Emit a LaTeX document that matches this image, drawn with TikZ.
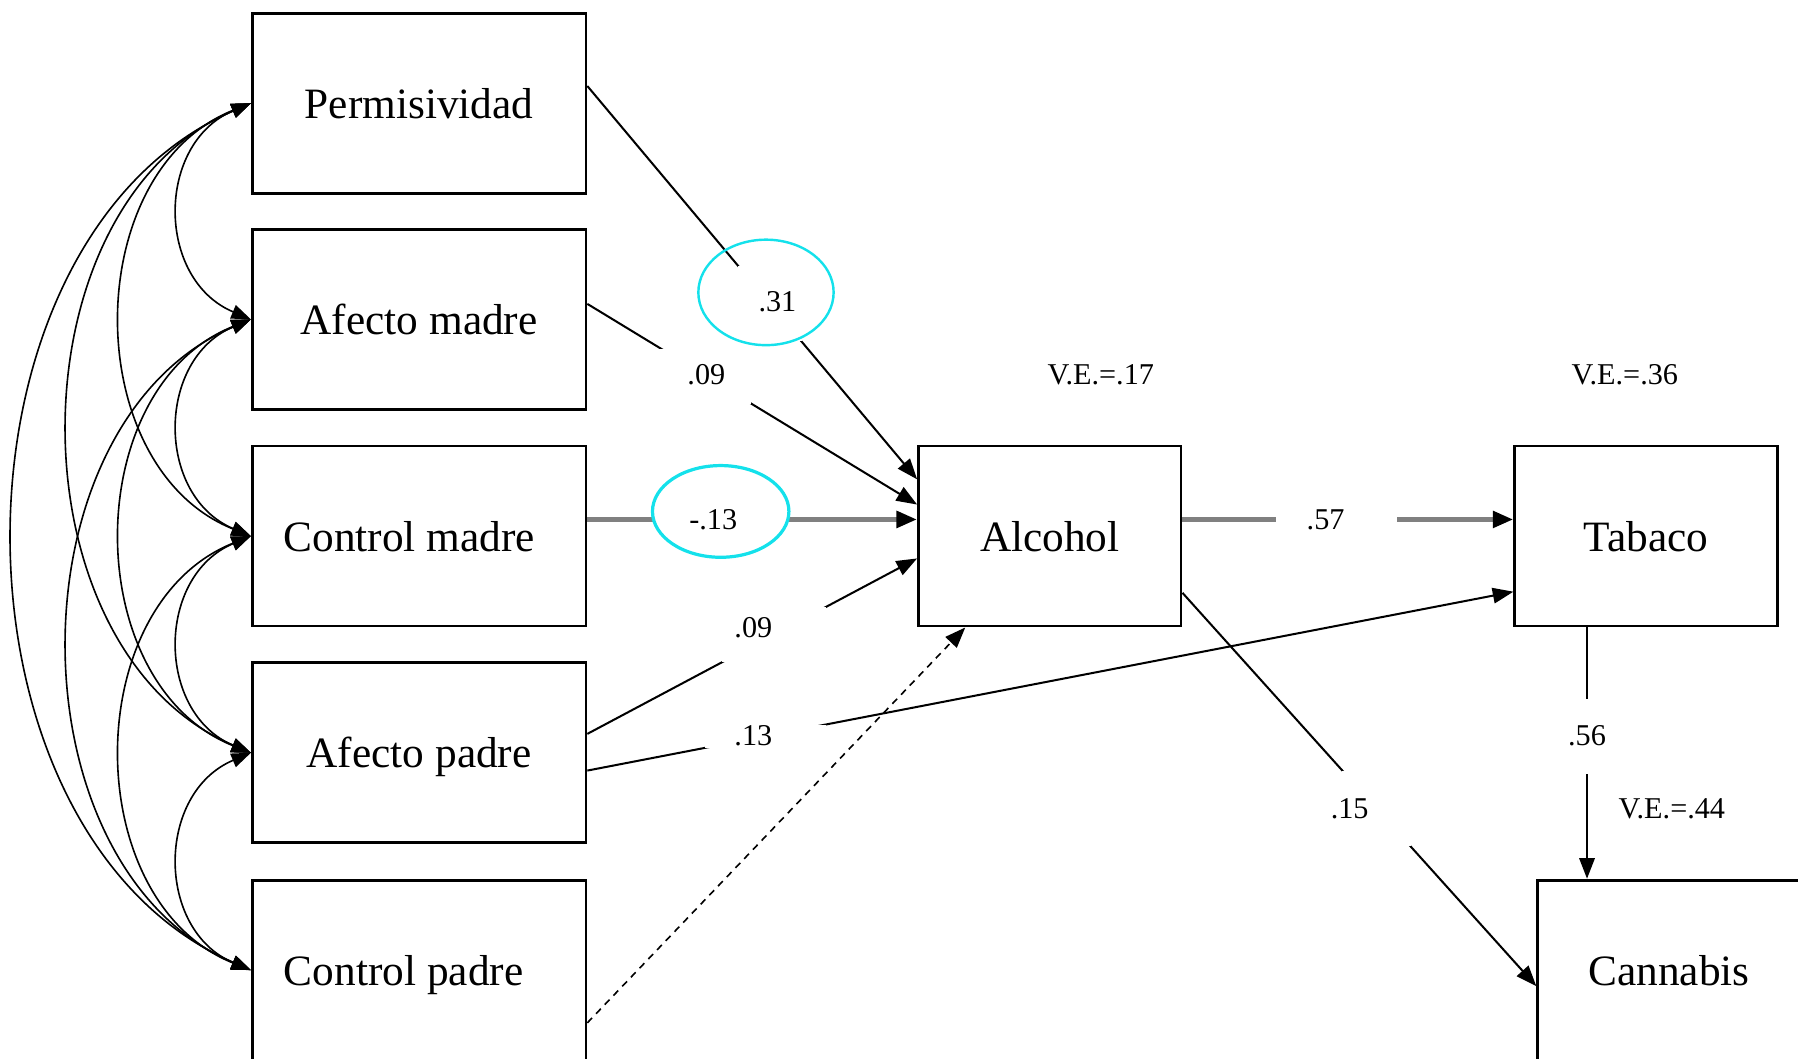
\documentclass[tikz,border=0pt]{standalone}
\usepackage{fontspec}
\setmainfont{Liberation Serif}
\usetikzlibrary{arrows.meta,calc,shapes.geometric}
\definecolor{ringcyan}{RGB}{20,225,235}
\definecolor{pathgray}{RGB}{128,128,128}
\begin{document}
\begin{tikzpicture}[x=0.02cm,y=-0.02cm,
  box/.style={draw, line width=1.4pt, minimum width=5.82cm, minimum height=3.14cm, inner sep=0pt, text height=15pt, text depth=0pt, font=\fontsize{21.5}{24}\selectfont},
  sbox/.style={box, minimum width=4.58cm},
  lbl/.style={font=\fontsize{15}{17}\selectfont, inner sep=0pt},
  gapbox/.style={fill=white, inner sep=0pt, draw=none},
  arr/.style={line width=1pt, -{Triangle[length=0.36cm,width=0.27cm]}},
  garr/.style={line width=2.6pt, draw=pathgray, -{Triangle[length=0.36cm,width=0.28cm,color=black]}},
  darr/.style={line width=0.8pt, dash pattern=on 0.12cm off 0.1cm, -{Triangle[length=0.36cm,width=0.27cm]}},
  cov/.style={line width=0.8pt, {Triangle[length=0.34cm,width=0.25cm]}-{Triangle[length=0.34cm,width=0.25cm]}},
  ring/.style={ellipse, draw=ringcyan, inner sep=0pt}
]
\clip (0,0) rectangle (1568,923);
\useasboundingbox (0,0) rectangle (1568,923);

% boxes
\node[box] (p)  at (365.5,90)    {Permisividad};
\node[box] (am) at (365.5,278.5) {Afecto madre};
\node[box] (cm) at (365.5,467.5) {Control madre\hspace*{0.34cm}};
\node[box] (ap) at (365.5,656.5) {Afecto padre};
\node[box] (cp) at (365.5,846)   {Control padre\hspace*{0.54cm}};
\node[sbox] (alc) at (915.5,467.5) {Alcohol};
\node[sbox] (tab) at (1435.5,467.5) {Tabaco};
\node[sbox] (can) at (1455.5,846) {Cannabis};

% covariances
\draw[cov] (p.west) .. controls ($(p.west)+(-83,35)$) and ($(am.west)+(-83,-35)$) .. (am.west);
\draw[cov] (am.west) .. controls ($(am.west)+(-83,35)$) and ($(cm.west)+(-83,-35)$) .. (cm.west);
\draw[cov] (cm.west) .. controls ($(cm.west)+(-83,35)$) and ($(ap.west)+(-83,-35)$) .. (ap.west);
\draw[cov] (ap.west) .. controls ($(ap.west)+(-83,35)$) and ($(cp.west)+(-83,-35)$) .. (cp.west);
\draw[cov] (p.west) .. controls ($(p.west)+(-150,60)$) and ($(cm.west)+(-150,-60)$) .. (cm.west);
\draw[cov] (am.west) .. controls ($(am.west)+(-150,60)$) and ($(ap.west)+(-150,-60)$) .. (ap.west);
\draw[cov] (cm.west) .. controls ($(cm.west)+(-150,60)$) and ($(cp.west)+(-150,-60)$) .. (cp.west);
\draw[cov] (p.west) .. controls ($(p.west)+(-211,90)$) and ($(ap.west)+(-211,-90)$) .. (ap.west);
\draw[cov] (am.west) .. controls ($(am.west)+(-211,90)$) and ($(cp.west)+(-211,-90)$) .. (cp.west);
\draw[cov] (p.west) .. controls ($(p.west)+(-275,120)$) and ($(cp.west)+(-275,-120)$) .. (cp.west);

% paths
\draw[arr] ($(p.east)+(0,-15)$) -- ($(alc.west)+(0,-49.5)$);
\draw[arr] ($(am.east)+(0,-13.5)$) -- ($(alc.west)+(0,-27.5)$);
\draw[garr] ($(cm.east)+(0,-14.5)$) -- ($(alc.west)+(0,-14.5)$);
\draw[arr] ($(ap.east)+(0,-16.5)$) -- ($(alc.west)+(0,19.5)$);
\draw[arr] ($(ap.east)+(0,15.5)$) -- ($(tab.west)+(0,48.5)$);
\draw[darr] ($(cp.east)+(0,46)$) -- ($(alc.south west)+(42,0)$);
\draw[garr] ($(alc.east)+(0,-14.5)$) -- ($(tab.west)+(0,-14.5)$);
\draw[arr] ($(alc.east)+(0,49.5)$) -- ($(can.west)+(0,14)$);
\draw[arr] ($(tab.south)+(-51.5,0)$) -- ($(can.north)+(-71.5,0)$);

% gaps in the paths
\node[gapbox, minimum width=1.1cm, minimum height=1.3cm] (g1) at (671.5,264.5) {};
\node[gapbox, minimum width=1.6cm, minimum height=0.96cm] (g2) at (615,328) {};
\node[gapbox, minimum width=2.36cm, minimum height=0.26cm] (g3) at (629,453) {};
\node[gapbox, minimum width=1.8cm, minimum height=0.95cm] (g4) at (675,553.5) {};
\node[gapbox, minimum width=2.1cm, minimum height=0.4cm] (g5) at (667.5,642) {};
\node[gapbox, minimum width=2.1cm, minimum height=0.26cm] (g6) at (1165.5,453) {};
\node[gapbox, minimum width=1.2cm, minimum height=1.32cm] (g7) at (1200.5,705) {};
\node[gapbox, minimum width=0.2cm, minimum height=1.3cm] (g8) at (1384,642.5) {};

% labels
\node[lbl] (l31) at (678,263) {.31};
\node[lbl] (l09a) at (616,327) {.09};
\node[lbl] (l13n) at (622,453) {-.13};
\node[lbl] (l09b) at (657,547) {.09};
\node[lbl] (l13) at (657,642) {.13};
\node[lbl] (l57) at (1156,453) {.57};
\node[lbl] (l15) at (1177,705) {.15};
\node[lbl] (l56) at (1384,642) {.56};
\node[lbl] (ve1) at (960,327) {V.E.=.17};
\node[lbl] (ve2) at (1417,327) {V.E.=.36};
\node[lbl] (ve3) at (1458,705) {V.E.=.44};

% highlight rings
\node[ring, line width=1.2pt, minimum width=2.36cm, minimum height=1.84cm] (r1) at (668,255) {};
\node[ring, line width=1.6pt, minimum width=2.38cm, minimum height=1.6cm] (r2) at (628.5,446) {};
\end{tikzpicture}
\end{document}
